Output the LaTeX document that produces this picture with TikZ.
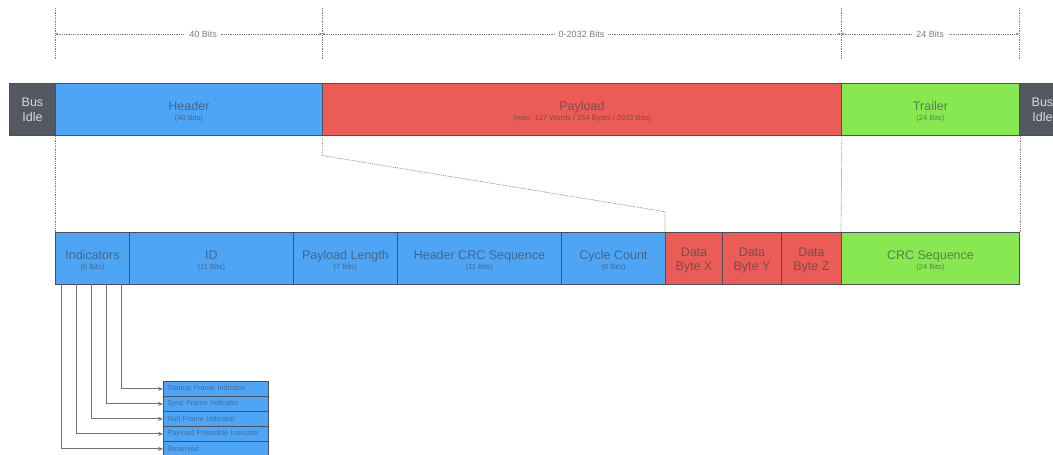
\documentclass[tikz,border=0pt]{standalone}
\usepackage{fontspec}
\setmainfont{Liberation Sans}
\usetikzlibrary{arrows.meta}

\definecolor{hdrblue}{RGB}{79,165,245}
\definecolor{payred}{RGB}{236,92,86}
\definecolor{trlgreen}{RGB}{136,232,82}
\definecolor{idlegray}{RGB}{84,88,96}
\definecolor{edge}{RGB}{75,79,89}
\definecolor{lbl}{RGB}{60,64,76}
\definecolor{dimgray}{RGB}{125,125,130}
\definecolor{wire}{RGB}{110,113,120}

% sub-caption under a field name
\newcommand{\subl}[1]{{\fontsize{7.5}{9}\selectfont #1}}
% strut that lowers a label block a little inside its box
\newcommand{\lowr}{\rule{0pt}{13pt}}

\begin{document}
\begin{tikzpicture}[x=1pt,y=-1pt,
  seg/.style={draw=edge, line width=0.9pt, inner sep=0pt, anchor=north west,
    minimum height=52pt, align=center, text=lbl, text opacity=0.62,
    font=\fontsize{12.5}{10}\selectfont},
  twoline/.style={font=\fontsize{12.5}{14.5}\selectfont},
  idle/.style={seg, fill=idlegray, text=white!85!black, text opacity=1,
    font=\fontsize{12.5}{15}\selectfont, minimum width=46pt},
  ibox/.style={draw=edge, line width=0.8pt, fill=hdrblue, anchor=north west,
    minimum height=15pt, text width=97pt, inner xsep=4pt, inner ysep=0pt,
    align=left, text=lbl, text opacity=0.55, font=\fontsize{7.4}{8}\selectfont},
  guide/.style={draw=dimgray, line width=0.7pt, dash pattern=on 0.8pt off 1pt},
  dimline/.style={guide, {Stealth[length=3pt,width=2.6pt]}-{Stealth[length=3pt,width=2.6pt]}},
  dimlbl/.style={fill=white, inner xsep=4pt, inner ysep=1pt, text=dimgray,
    font=\fontsize{9}{10}\selectfont},
  wireline/.style={draw=wire, line width=0.9pt, -{Stealth[length=5pt,width=4pt]}}
]
\useasboundingbox (0,0) rectangle (1053,455);
\clip (0,0) rectangle (1053,455);

% ---- frame overview ----
\node[idle] (idleL) at (9,83) {Bus\\Idle};
\node[seg, fill=hdrblue, minimum width=267pt] (hdr) at (55,83)
  {\lowr Header\\\subl{(40 Bits)}};
\node[seg, fill=payred, minimum width=519pt] (pay) at (322,83)
  {\lowr Payload\\\subl{(max. 127 Words / 254 Bytes / 2032 Bits)}};
\node[seg, fill=trlgreen, minimum width=178pt] (trl) at (841,83)
  {\lowr Trailer\\\subl{(24 Bits)}};
\node[idle] (idleR) at (1019,83) {Bus\\Idle};

% ---- field breakdown ----
\node[seg, fill=hdrblue, minimum width=74pt] (ind) at (55,232)
  {\lowr Indicators\\\subl{(5 Bits)}};
\node[seg, fill=hdrblue, minimum width=164pt] (fid) at (129,232)
  {\lowr ID\\\subl{(11 Bits)}};
\node[seg, fill=hdrblue, minimum width=104pt] (plen) at (293,232)
  {\lowr Payload Length\\\subl{(7 Bits)}};
\node[seg, fill=hdrblue, minimum width=164pt] (hcrc) at (397,232)
  {\lowr Header CRC Sequence\\\subl{(11 Bits)}};
\node[seg, fill=hdrblue, minimum width=104pt] (cyc) at (561,232)
  {\lowr Cycle Count\\\subl{(6 Bits)}};
\node[seg, twoline, fill=payred, minimum width=57pt] (dbx) at (665,232) {\lowr Data\\Byte X};
\node[seg, twoline, fill=payred, minimum width=59pt] (dby) at (722,232) {\lowr Data\\Byte Y};
\node[seg, twoline, fill=payred, minimum width=60pt] (dbz) at (781,232) {\lowr Data\\Byte Z};
\node[seg, fill=trlgreen, minimum width=178pt] (crc) at (841,232)
  {\lowr CRC Sequence\\\subl{(24 Bits)}};

% ---- bit-length dimensions ----
\foreach \n/\x in {a/55, b/322, c/841, d/1019} {
  \coordinate (top\n) at (\x,8);
  \coordinate (bot\n) at (\x,60);
  \coordinate (dim\n) at (\x,34);
  \draw[guide] (top\n) -- (bot\n);
}
\draw[dimline] (dima) -- node[dimlbl, pos=0.555] {40 Bits} (dimb);
\draw[dimline] (dimb) -- node[dimlbl] {0-2032 Bits} (dimc);
\draw[dimline] (dimc) -- node[dimlbl] {24 Bits} (dimd);

% ---- guides from overview to breakdown ----
\coordinate (knee1) at (322,155.5);
\coordinate (knee2) at (665,211.7);
\draw[guide] (hdr.south west) -- (ind.north west);
\draw[guide] (hdr.south east) -- (knee1) -- (knee2) -- (dbx.north west);
\draw[guide] (pay.south east) -- (crc.north west);
\draw[guide] (trl.south east) -- (crc.north east);

% ---- indicator bits ----
\node[ibox] (sfi) at (163,381) {Startup Frame Indicator};
\node[ibox] (syn) at (163,396) {Sync Frame Indicator};
\node[ibox] (nfi) at (163,411) {Null Frame Indicator};
\node[ibox] (ppi) at (163,426) {Payload Preamble Indicator};
\node[ibox] (res) at (163,441) {Reserved};

\coordinate (b1) at (121.3,284);
\coordinate (b2) at (106.7,284);
\coordinate (b3) at (91.7,284);
\coordinate (b4) at (76.7,284);
\coordinate (b5) at (61.7,284);
\draw[wireline] (b1) |- (sfi.west);
\draw[wireline] (b2) |- (syn.west);
\draw[wireline] (b3) |- (nfi.west);
\draw[wireline] (b4) |- (ppi.west);
\draw[wireline] (b5) |- (res.west);
\end{tikzpicture}
\end{document}
